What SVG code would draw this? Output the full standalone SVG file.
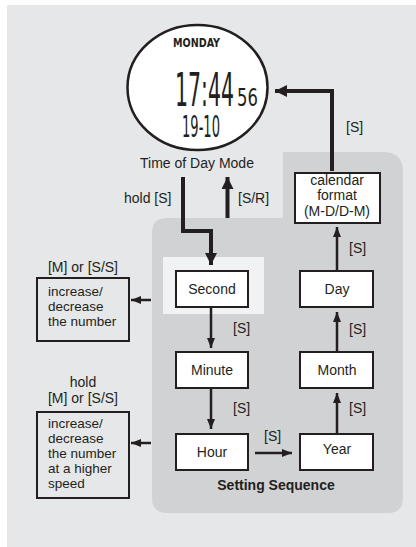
<svg xmlns="http://www.w3.org/2000/svg" width="416" height="547" viewBox="0 0 416 547">
<defs>
<style>
.t{font-family:"Liberation Sans",Arial,sans-serif;font-size:14px;fill:#231f20}
.s{font-size:13.5px}
.c{text-anchor:middle}
.box{fill:#fff;stroke:#231f20;stroke-width:2}
.lbox{fill:#e6e7e8;stroke:#231f20;stroke-width:2}
.thick{fill:none;stroke:#231f20;stroke-width:4}
.thin{fill:none;stroke:#231f20;stroke-width:2.5}
.lcd{font-family:"DejaVu Sans Condensed","DejaVu Sans",sans-serif;fill:#231f20;font-weight:normal}
</style>
<marker id="ah" markerUnits="userSpaceOnUse" markerWidth="14" markerHeight="12" refX="12" refY="6" orient="auto">
<path d="M0,0 L12,6 L0,12 Z" fill="#231f20"/>
</marker>
<marker id="as" markerUnits="userSpaceOnUse" markerWidth="11" markerHeight="8" refX="10" refY="4" orient="auto">
<path d="M0,0 L10,4 L0,8 Z" fill="#231f20"/>
</marker>
</defs>
<rect x="7" y="5" width="409" height="542" fill="#e6e7e8"/>
<path d="M152,233 Q152,218 167,218 L283,218 L283,152 L383,152 Q403,152 403,172 L403,498 Q403,513 388,513 L167,513 Q152,513 152,498 Z" fill="#d1d2d4"/>
<rect x="163" y="257" width="101" height="57" fill="#f1f2f3"/>

<g id="watch">
<ellipse cx="197.5" cy="87.5" rx="70" ry="62.5" fill="#fff" stroke="#231f20" stroke-width="2.5"/>
<text class="lcd" x="173" y="47" font-size="12.5" style="font-weight:bold" textLength="47" lengthAdjust="spacingAndGlyphs">MONDAY</text>
<text class="lcd" transform="translate(175,106) scale(0.5,1)" font-size="46" textLength="118" lengthAdjust="spacingAndGlyphs">17:44</text>
<text class="lcd" transform="translate(237,106) scale(0.72,1)" font-size="25" textLength="29" lengthAdjust="spacingAndGlyphs">56</text>
<text class="lcd" transform="translate(182,137) scale(0.5,1)" font-size="30" textLength="76" lengthAdjust="spacingAndGlyphs">19-10</text>
<text class="t c" x="197" y="168" font-size="16.5">Time of Day Mode</text>
</g>

<g id="second"><rect class="box" x="176" y="271" width="72" height="36"/><text class="t c" x="212" y="294">Second</text></g>
<g id="minute"><rect class="box" x="176" y="352" width="72" height="36"/><text class="t c" x="212" y="375">Minute</text></g>
<g id="hour"><rect class="box" x="176" y="434" width="72" height="36"/><text class="t c" x="212" y="457">Hour</text></g>
<g id="year"><rect class="box" x="300" y="434" width="73" height="36"/><text class="t c" x="337" y="454">Year</text></g>
<g id="month"><rect class="box" x="300" y="352" width="73" height="36"/><text class="t c" x="337" y="375">Month</text></g>
<g id="day"><rect class="box" x="300" y="271" width="73" height="36"/><text class="t c" x="337" y="294">Day</text></g>
<g id="calendar"><rect class="box" x="295" y="173" width="85" height="50"/>
<text class="t c" x="337" y="185">calendar</text><text class="t c" x="337" y="200">format</text><text class="t c" x="337" y="216">(M-D/D-M)</text></g>

<g id="adjust1">
<text class="t c" x="83" y="272">[M] or [S/S]</text>
<rect class="lbox" x="37" y="278" width="92" height="63"/>
<text class="t s" x="48" y="296">increase/</text><text class="t s" x="48" y="311">decrease</text><text class="t s" x="48" y="326">the number</text>
</g>
<g id="adjust2">
<text class="t c" x="83" y="387">hold</text>
<text class="t c" x="83" y="403">[M] or [S/S]</text>
<rect class="lbox" x="37" y="412" width="92" height="86"/>
<text class="t s" x="48" y="428">increase/</text><text class="t s" x="48" y="443">decrease</text><text class="t s" x="48" y="458">the number</text><text class="t s" x="48" y="473">at a higher</text><text class="t s" x="48" y="488">speed</text>
</g>

<text class="t" x="276" y="490" font-weight="bold" text-anchor="middle">Setting Sequence</text>

<g id="connectors">
<path class="thick" d="M183,177 L183,231 L211,231 L211,265" marker-end="url(#ah)"/>
<path class="thick" d="M227.5,218 L227.5,177" marker-end="url(#ah)"/>
<path class="thick" d="M332,171 L332,91 L275,91" marker-end="url(#ah)"/>
<path class="thin" d="M211,308 L211,348" marker-end="url(#as)"/>
<path class="thin" d="M211,389 L211,429" marker-end="url(#as)"/>
<path class="thin" d="M255,453 L292,453" marker-end="url(#as)"/>
<path class="thin" d="M337,433 L337,393" marker-end="url(#as)"/>
<path class="thin" d="M337,351 L337,312" marker-end="url(#as)"/>
<path class="thin" d="M337,270 L337,227" marker-end="url(#as)"/>
<path class="thin" d="M151,300 L131,300" stroke-width="2" marker-end="url(#as)"/>
<path class="thin" d="M151,443 L131,443" stroke-width="2" marker-end="url(#as)"/>
<text class="t" x="124" y="203">hold [S]</text>
<text class="t" x="238" y="203">[S/R]</text>
<text class="t" x="346" y="132">[S]</text>
<text class="t" x="349" y="253">[S]</text>
<text class="t" x="349" y="334">[S]</text>
<text class="t" x="349" y="413">[S]</text>
<text class="t" x="233" y="333">[S]</text>
<text class="t" x="233" y="413">[S]</text>
<text class="t" x="264" y="441">[S]</text>
</g>
</svg>
